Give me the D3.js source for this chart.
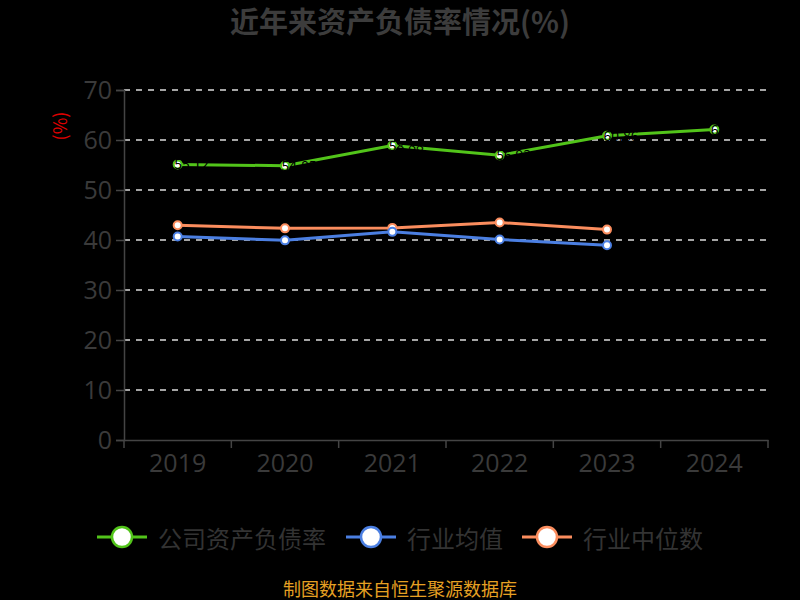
<!DOCTYPE html>
<html>
<head>
<meta charset="utf-8">
<script src="https://cdn.jsdelivr.net/npm/d3@7"></script>
<style>
  body { margin: 0; background: #000; }
  svg { display: block; font-family: "Noto Sans CJK SC", "Noto Sans", sans-serif; }
</style>
</head>
<body>
<svg id="chart"></svg>
<script>
// data
const years = ["2019", "2020", "2021", "2022", "2023", "2024"];
const companyRate = [55.12, 54.85, 58.88, 56.93, 60.86, 62.08];
const industryMean = [40.71, 39.93, 41.63, 40.09, 38.94];
const industryMedian = [42.94, 42.33, 42.42, 43.49, 42.08];
const seriesNames = ["公司资产负债率", "行业均值", "行业中位数"];
const yTicks = [0, 10, 20, 30, 40, 50, 60, 70];

const W = 800, H = 600;
const margin = { top: 90, right: 32, bottom: 160, left: 124 };
const width = W - margin.left - margin.right;
const height = H - margin.top - margin.bottom;

const colors = ["#52c41a", "#4b7fe2", "#fb8d5e"];

const svg = d3.select("#chart").attr("width", W).attr("height", H);

svg.append("rect").attr("width", W).attr("height", H).attr("fill", "#000");

// title
svg.append("text")
    .attr("x", 400).attr("y", 33)
    .attr("text-anchor", "middle")
    .attr("font-size", 29).attr("font-weight", "bold")
    .attr("fill", "#3c3c3c")
    .text("近年来资产负债率情况(%)");

const g = svg.append("g").attr("transform", `translate(${margin.left},${margin.top})`);

const x = d3.scaleBand().domain(years).range([0, width]);
const y = d3.scaleLinear().domain([0, 70]).range([height, 0]);

// grid
g.selectAll(".grid")
    .data(yTicks.filter(d => d > 0))
    .enter().append("line")
    .attr("x1", 0).attr("x2", width)
    .attr("y1", d => y(d)).attr("y2", d => y(d))
    .attr("stroke", "#dcdcdc").attr("stroke-width", 1.5)
    .attr("stroke-dasharray", "6,6");

// y axis
const yAxis = g.append("g")
    .call(d3.axisLeft(y).tickValues(yTicks).tickSize(8).tickPadding(4));
yAxis.select(".domain").attr("stroke", "#444").attr("stroke-width", 1.5);
yAxis.selectAll(".tick line").attr("stroke", "#444").attr("stroke-width", 1.5);
yAxis.selectAll(".tick text")
    .attr("fill", "#3a3a3a").attr("font-size", 25)
    .attr("font-family", "'Open Sans', 'Noto Sans', sans-serif");

// x axis
const xAxis = g.append("g")
    .attr("transform", `translate(0,${height})`)
    .call(d3.axisBottom(x).tickSize(0).tickPadding(14));
xAxis.select(".domain").attr("stroke", "#444").attr("stroke-width", 1.5);
xAxis.selectAll(".tick text")
    .attr("fill", "#3a3a3a").attr("font-size", 25)
    .attr("font-family", "'Open Sans', 'Noto Sans', sans-serif");
// band boundary ticks
xAxis.selectAll(".bound")
    .data(d3.range(years.length + 1))
    .enter().append("line")
    .attr("x1", i => i * x.bandwidth()).attr("x2", i => i * x.bandwidth())
    .attr("y1", 0).attr("y2", 8)
    .attr("stroke", "#444").attr("stroke-width", 1.5);

// y label
svg.append("text")
    .attr("transform", "translate(62,126) rotate(-90)")
    .attr("text-anchor", "middle")
    .attr("dominant-baseline", "middle")
    .attr("font-size", 18)
    .attr("fill", "#e00000")
    .text("(%)");

const cx = i => x(years[i]) + x.bandwidth() / 2;
const line = d3.line().x((d, i) => cx(i)).y(d => y(d));

const allSeries = [companyRate, industryMean, industryMedian];
// draw median, mean, then company on top
[2, 1, 0].forEach(k => {
  const vals = allSeries[k];
  g.append("path")
      .datum(vals)
      .attr("d", line)
      .attr("fill", "none")
      .attr("stroke", colors[k])
      .attr("stroke-width", 3);
  g.selectAll(".pt" + k)
      .data(vals)
      .enter().append("circle")
      .attr("cx", (d, i) => cx(i))
      .attr("cy", d => y(d))
      .attr("r", 4)
      .attr("fill", "#fff")
      .attr("stroke", colors[k])
      .attr("stroke-width", 2);
});

// data labels of company series (black on black, only visible over the line)
g.selectAll(".lbl")
    .data(companyRate)
    .enter().append("text")
    .attr("x", (d, i) => cx(i) + 14)
    .attr("y", (d, i) => y(d) + 5)
    .attr("text-anchor", "middle")
    .attr("font-size", 14)
    .attr("fill", "#000")
    .text(d => d.toFixed(2));

// legend
const legendX = [97, 346, 522];
const legend = svg.append("g").attr("transform", "translate(0,537)");
seriesNames.forEach((name, k) => {
  const lg = legend.append("g").attr("transform", `translate(${legendX[k]},0)`);
  lg.append("line").attr("x1", 0).attr("x2", 50)
      .attr("stroke", colors[k]).attr("stroke-width", 3);
  lg.append("circle").attr("cx", 25).attr("r", 10)
      .attr("fill", "#fff").attr("stroke", colors[k]).attr("stroke-width", 2.5);
  lg.append("text").attr("x", 61).attr("y", 0)
      .attr("dominant-baseline", "central")
      .attr("font-size", 24).attr("fill", "#333")
      .text(name);
});

// source
svg.append("text")
    .attr("x", 400).attr("y", 596)
    .attr("text-anchor", "middle")
    .attr("font-size", 18)
    .attr("fill", "#e6a023")
    .text("制图数据来自恒生聚源数据库");
</script>
</body>
</html>
